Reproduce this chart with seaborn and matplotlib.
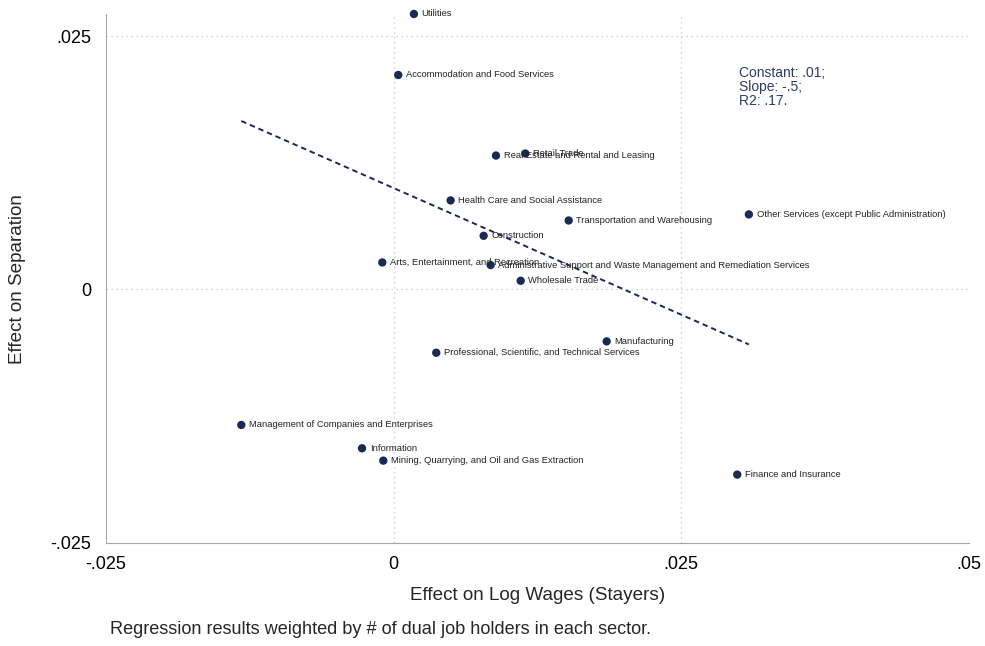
import numpy as np
import pandas as pd
import matplotlib
matplotlib.use("Agg")
import matplotlib.pyplot as plt
import seaborn as sns

# Sector-level effects: wage effect for stayers (x) vs. separation effect (y)
sectors = [
    "Utilities",
    "Accommodation and Food Services",
    "Real Estate and Rental and Leasing",
    "Retail Trade",
    "Health Care and Social Assistance",
    "Transportation and Warehousing",
    "Other Services (except Public Administration)",
    "Construction",
    "Arts, Entertainment, and Recreation",
    "Administrative Support and Waste Management and Remediation Services",
    "Wholesale Trade",
    "Manufacturing",
    "Professional, Scientific, and Technical Services",
    "Management of Companies and Enterprises",
    "Information",
    "Mining, Quarrying, and Oil and Gas Extraction",
    "Finance and Insurance",
]
wage_effect = [0.00176, 0.00040, 0.00889, 0.01144, 0.00495, 0.01521, 0.03087,
               0.00782, -0.00099, 0.00843, 0.01104, 0.01851, 0.00370,
               -0.01324, -0.00275, -0.00090, 0.02986]
separation_effect = [0.02718, 0.02116, 0.01321, 0.01341, 0.00878, 0.00680, 0.00740,
                     0.00529, 0.00266, 0.00240, 0.00085, -0.00513, -0.00625,
                     -0.01338, -0.01568, -0.01690, -0.01828]

# Weighted fit reported in the annotation
fit_constant = 0.01
fit_slope = -0.5
fit_r2 = 0.17

x_ticks = [-0.025, 0, 0.025, 0.05]
x_tick_labels = ["-.025", "0", ".025", ".05"]
y_ticks = [-0.025, 0, 0.025]
y_tick_labels = ["-.025", "0", ".025"]

df = pd.DataFrame({"sector": sectors, "wage": wage_effect, "sep": separation_effect})

sns.set_style("white")
plt.rcParams["font.family"] = ["Liberation Sans", "DejaVu Sans"]

navy = "#1b2a55"
W, H = 985, 646
fig = plt.figure(figsize=(W / 100, H / 100), dpi=100)
fig.patch.set_facecolor("white")
ax = fig.add_axes([106 / W, 1 - 542.7 / H, (969 - 106) / W, (542.7 - 14) / H])

# Dotted reference grid at interior ticks
for xv in [0, 0.025]:
    ax.axvline(xv, color="#c4c4c4", lw=0.9, ls=(0, (1, 3)), zorder=0)
for yv in [0, 0.025]:
    ax.axhline(yv, color="#c4c4c4", lw=0.9, ls=(0, (1, 3)), zorder=0)

# Fitted line over the observed wage-effect range
grid = np.linspace(df["wage"].min(), df["wage"].max(), 50)
fit_df = pd.DataFrame({"wage": grid, "sep": fit_constant + fit_slope * grid})
sns.lineplot(data=fit_df, x="wage", y="sep", ax=ax, color=navy, lw=1.4,
             dashes=False, zorder=2)
ax.lines[-1].set_dashes((2.8, 2.0))

sns.scatterplot(data=df, x="wage", y="sep", ax=ax, color=navy, s=36,
                edgecolor="none", zorder=3, clip_on=False)

for name, xv, yv in zip(df["sector"], df["wage"], df["sep"]):
    ax.annotate(name, (xv, yv), xytext=(5.6, 0), textcoords="offset points",
                ha="left", va="center", fontsize=6.75, color="#222222",
                annotation_clip=False, zorder=4)

ax.set_xlim(-0.025, 0.05)
ax.set_ylim(-0.025, max(separation_effect))
ax.set_xticks(x_ticks)
ax.set_xticklabels(x_tick_labels)
ax.set_yticks(y_ticks)
ax.set_yticklabels(y_tick_labels)
ax.tick_params(axis="both", length=6.8, width=0.8, color="#a8a8a8",
               labelsize=13, pad=4, labelcolor="black", direction="out")
ax.tick_params(axis="x", pad=3)

for side in ["top", "right"]:
    ax.spines[side].set_visible(False)
for side in ["left", "bottom"]:
    ax.spines[side].set_color("#a8a8a8")
    ax.spines[side].set_linewidth(0.8)

ax.set_xlabel("")
ax.set_ylabel("")
fig.text(537.5 / W, 1 - 596 / H, "Effect on Log Wages (Stayers)", ha="center",
         va="center", fontsize=13.6)
fig.text(18 / W, 1 - 279 / H, "Effect on Separation", ha="center", va="center",
         rotation=90, fontsize=13.6)
fig.text(110 / W, 1 - 630 / H,
         "Regression results weighted by # of dual job holders in each sector.",
         ha="left", va="center", fontsize=13.1)

ax.text(739 / W, 1 - 66 / H,
        f"Constant: {fit_constant:.2f}".replace("0.", ".") + ";\n"
        + f"Slope: {fit_slope:.1f}".replace("0.", ".") + ";\n"
        + f"R2: {fit_r2:.2f}".replace("0.", ".") + ".",
        transform=fig.transFigure, ha="left", va="top", fontsize=10,
        color="#2e3b66", linespacing=0.98)

fig.savefig("out.png", dpi=100)
